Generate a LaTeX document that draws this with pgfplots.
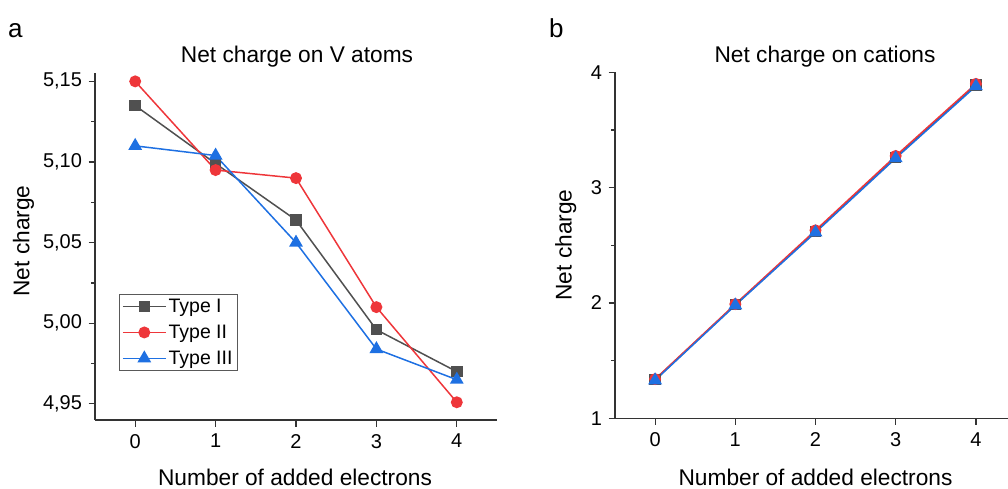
\documentclass[border=0pt]{standalone}
\usepackage{pgfplots}
\pgfplotsset{compat=1.18}
\usepackage{fontspec}
\setmainfont{Liberation Sans}
\setsansfont{Liberation Sans}

\definecolor{typeI}{RGB}{80,80,80}
\definecolor{typeII}{RGB}{238,54,58}
\definecolor{typeIII}{RGB}{30,112,226}

\newcommand\tickfont{\fontsize{20}{22}\selectfont}
\newcommand\labfont{\fontsize{22.7}{26}\selectfont}
\newcommand\legfont{\fontsize{19.5}{22}\selectfont}

\pgfplotsset{
  panel/.style={
    scale only axis,
    axis x line*=bottom, axis y line*=left,
    axis line style={black!80, line width=1.3pt, -},
    tick style={black!80, line width=1.2pt},
    tick align=outside,
    major tick length=6.5pt, minor tick length=4pt,
    xmin=-0.5, xmax=4.5, xtick={0,1,2,3,4},
    minor y tick num=1,
    ticklabel style={font=\tickfont},
    xticklabel style={yshift=-4pt},
    yticklabel style={xshift=-3pt},
    /pgf/number format/assume math mode=true,
    clip=false,
  },
  s1/.style={typeI, line width=1.5pt, mark=square*, mark size=5pt, mark options={solid}},
  s2/.style={typeII, line width=1.5pt, mark=*, mark size=5.2pt, mark options={solid}},
  s3/.style={typeIII, line width=1.5pt, mark=triangle*, mark size=6.5pt, mark options={solid}},
}

\begin{document}
\begin{tikzpicture}
\path[use as bounding box] (0pt,0pt) rectangle (1008pt,-488pt);

% panel a
\begin{axis}[panel,
  at={(95pt,-420pt)}, anchor=south west,
  width=402pt, height=346.7pt,
  ymin=4.94, ymax=5.155,
  ytick={4.95,5,5.05,5.1,5.15},
  yticklabel style={/pgf/number format/.cd, use comma, fixed, fixed zerofill, precision=2},
  legend style={at={(0.06,0.142)}, anchor=south west, draw=black!65, line width=0.9pt,
    font=\legfont, cells={anchor=west}, inner sep=2.5pt, row sep=7pt},
  legend image code/.code={\draw[line width=1.5pt, mark repeat=2, mark phase=2] plot coordinates {(0pt,0pt) (21.5pt,0pt) (43pt,0pt)};},
]
\addplot[s1] coordinates {(0,5.135) (1,5.099) (2,5.064) (3,4.996) (4,4.970)};
\addlegendentry{Type I}
\addplot[s2] coordinates {(0,5.150) (1,5.095) (2,5.090) (3,5.010) (4,4.951)};
\addlegendentry{Type II}
\addplot[s3] coordinates {(0,5.110) (1,5.104) (2,5.050) (3,4.984) (4,4.965)};
\addlegendentry{Type III}
\end{axis}

% panel b
\begin{axis}[panel,
  at={(615pt,-418.3pt)}, anchor=south west,
  width=401pt, height=346pt,
  ymin=1, ymax=4,
  ytick={1,2,3,4},
]
\addplot[s1] coordinates {(0,1.335) (1,1.985) (2,2.620) (3,3.260) (4,3.890)};
\addplot[s2] coordinates {(0,1.340) (1,1.990) (2,2.630) (3,3.275) (4,3.900)};
\addplot[s3] coordinates {(0,1.330) (1,1.980) (2,2.612) (3,3.255) (4,3.880)};
\end{axis}

% titles and labels
\node[anchor=base, font=\labfont] at (297pt,-62.7pt) {Net charge on V atoms};
\node[anchor=base, font=\labfont] at (825pt,-62.7pt) {Net charge on cations};
\node[anchor=base, font=\labfont] at (295pt,-485pt) {Number of added electrons};
\node[anchor=base, font=\labfont] at (815.5pt,-485pt) {Number of added electrons};
\node[anchor=base, font=\labfont, rotate=90] at (29.3pt,-241pt) {Net charge};
\node[anchor=base, font=\labfont, rotate=90] at (571.7pt,-245pt) {Net charge};
\node[anchor=base west, font=\fontsize{26}{28}\selectfont, inner sep=0pt] at (8pt,-37.3pt) {a};
\node[anchor=base west, font=\fontsize{26}{28}\selectfont, inner sep=0pt] at (549pt,-37.3pt) {b};
\end{tikzpicture}
\end{document}
